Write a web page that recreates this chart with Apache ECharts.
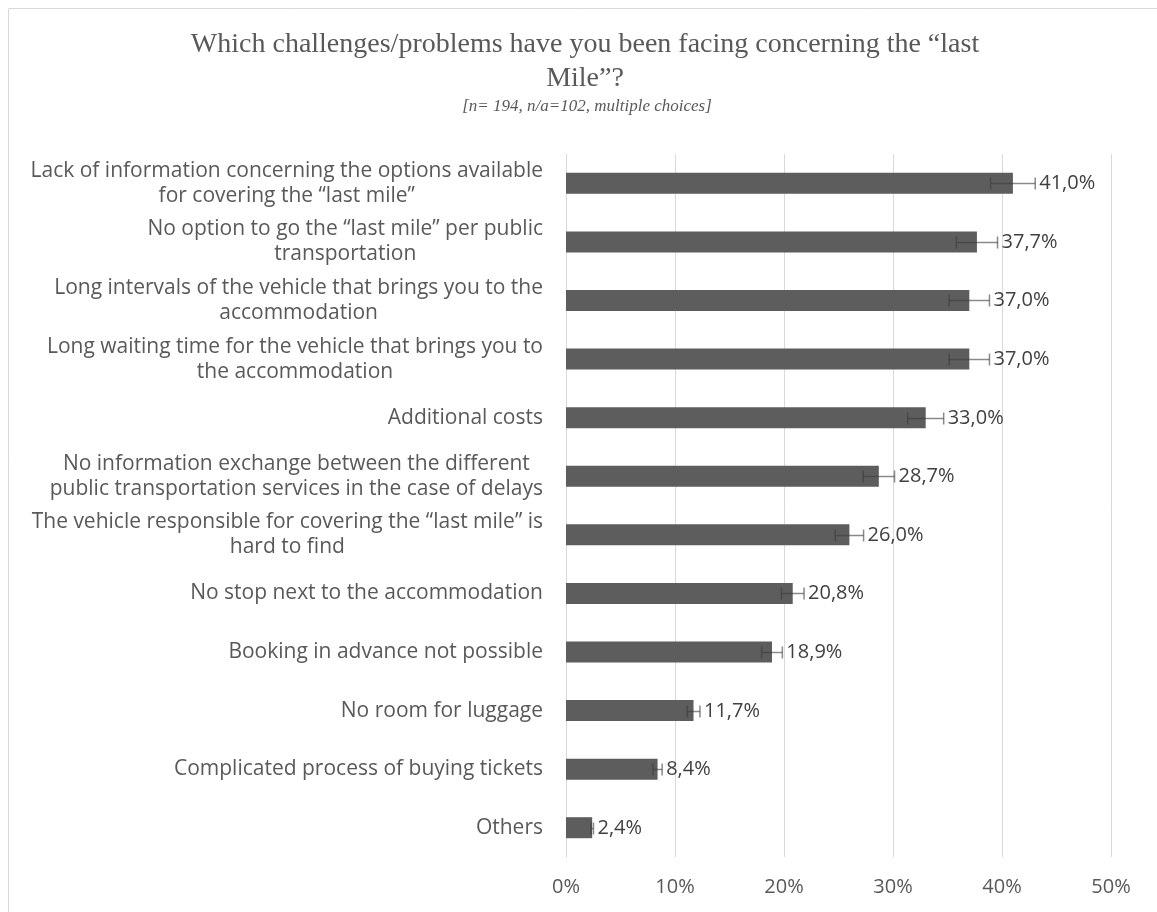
<!DOCTYPE html>
<html><head><meta charset="utf-8">
<script src="https://cdn.jsdelivr.net/npm/echarts@6/dist/echarts.min.js"></script>
<style>html,body{margin:0;padding:0;background:#fff}#c{width:1157px;height:912px}</style>
</head><body><div id="c"></div><script>
const categories = [
  'Lack of information concerning the options available\nfor covering the \u201clast mile\u201d',
  'No option to go the \u201clast mile\u201d per public\ntransportation',
  'Long intervals of the vehicle that brings you to the\naccommodation',
  'Long waiting time for the vehicle that brings you to\nthe accommodation',
  'Additional costs',
  'No information exchange between the different\npublic transportation services in the case of delays',
  'The vehicle responsible for covering the \u201clast mile\u201d is\nhard to find',
  'No stop next to the accommodation',
  'Booking in advance not possible',
  'No room for luggage',
  'Complicated process of buying tickets',
  'Others'
];
const values = [41.0, 37.7, 37.0, 37.0, 33.0, 28.7, 26.0, 20.8, 18.9, 11.7, 8.4, 2.4];
const errors = [2.05, 1.89, 1.85, 1.85, 1.65, 1.44, 1.30, 1.04, 0.95, 0.59, 0.42, 0.12];
const xTicks = [0, 10, 20, 30, 40, 50];

const FONT = 'Open Sans';
const chart = echarts.init(document.getElementById('c'));
chart.setOption({
  backgroundColor: '#fff',
  animation: false,
  graphic: [{
    type: 'rect', shape: {x: 8.5, y: 8.5, width: 1200, height: 1000},
    style: {fill: 'none', stroke: '#d9d9d9', lineWidth: 1}, silent: true, z: -1
  }],
  title: [{
    text: 'Which challenges/problems have you been facing concerning the \u201clast\nMile\u201d?',
    left: 585, top: 28, padding: 0, textAlign: 'center',
    textStyle: {fontFamily: 'Liberation Serif', fontSize: 28, fontWeight: 'normal', color: '#595959', lineHeight: 34}
  }, {
    text: '[n= 194, n/a=102, multiple choices]',
    left: 587, top: 98, padding: 0, textAlign: 'center',
    textStyle: {fontFamily: 'Liberation Serif', fontSize: 17, fontStyle: 'italic', fontWeight: 'normal', color: '#595959'}
  }],
  grid: {left: 566, right: 46, top: 154, bottom: 55, containLabel: false},
  xAxis: {
    type: 'value', min: xTicks[0], max: xTicks[xTicks.length - 1], interval: 10,
    axisLine: {show: false}, axisTick: {show: false},
    splitLine: {show: true, lineStyle: {color: '#d9d9d9', width: 1}},
    axisLabel: {formatter: '{value}%', color: '#595959', fontFamily: FONT, fontSize: 20, margin: 20}
  },
  yAxis: {
    type: 'category', data: categories, inverse: true,
    axisLine: {show: true, lineStyle: {color: '#d9d9d9', width: 1}},
    axisTick: {show: false},
    axisLabel: {
      color: '#595959', fontFamily: FONT, fontSize: 21, margin: 23, align: 'right', lineHeight: 25,
      formatter: function (v) { return v.split('\n').map(s => '{c|' + s + '}').join('\n'); },
      rich: {c: {align: 'center', color: '#595959', fontFamily: FONT, fontSize: 21, lineHeight: 25}}
    }
  },
  series: [{
    type: 'bar', data: values, barWidth: 21,
    itemStyle: {color: '#5d5d5d'}, z: 2
  }, {
    type: 'custom', z: 3,
    data: values.map((v, i) => [v, i, errors[i]]),
    encode: {x: 0, y: 1},
    renderItem: function (params, api) {
      const v = api.value(0), idx = api.value(1), e = api.value(2);
      const lo = api.coord([v - e, idx]), hi = api.coord([v + e, idx]);
      const y = Math.round(lo[1]) + 0.5, h = 12;
      const st = {stroke: 'rgba(60,60,60,0.6)', lineWidth: 1.5};
      return {type: 'group', children: [
        {type: 'line', shape: {x1: lo[0], y1: y, x2: hi[0], y2: y}, style: st},
        {type: 'line', shape: {x1: lo[0], y1: y - h / 2, x2: lo[0], y2: y + h / 2}, style: st},
        {type: 'line', shape: {x1: hi[0], y1: y - h / 2, x2: hi[0], y2: y + h / 2}, style: st},
        {type: 'text', style: {
          text: v.toFixed(1).replace('.', ',') + '%', x: hi[0] + 4, y: y,
          align: 'left', verticalAlign: 'middle', fill: '#404040',
          font: '20px ' + FONT
        }}
      ]};
    }
  }]
});
</script></body></html>
